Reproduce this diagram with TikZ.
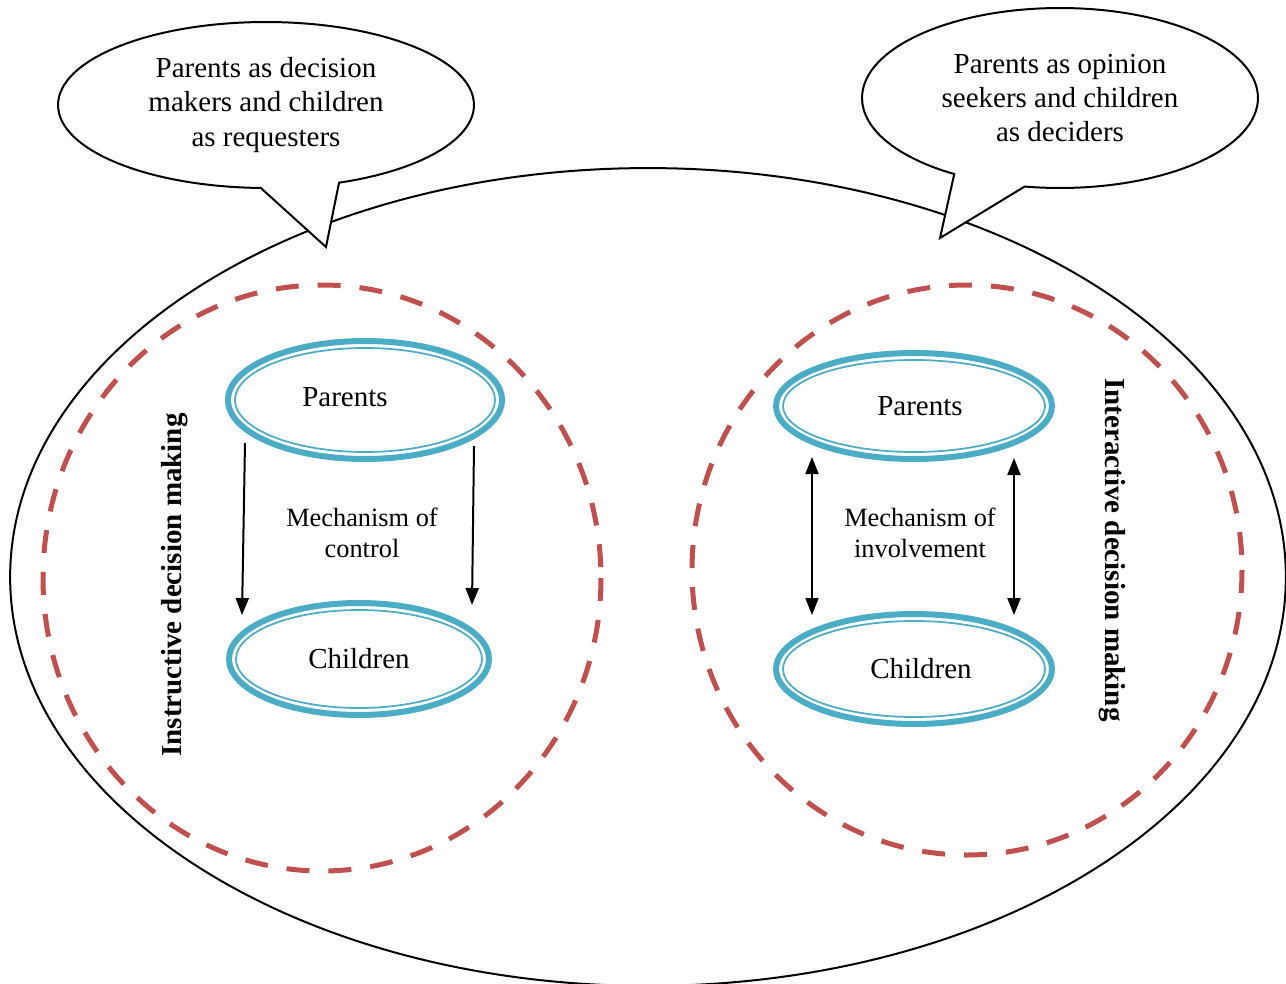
\documentclass[tikz,border=0pt]{standalone}
\usepackage{fontspec}
\setmainfont{Liberation Serif}
\usepackage{tikz}
\usetikzlibrary{calc,shapes,shapes.callouts,arrows.meta,positioning}
\definecolor{famblue}{RGB}{75,172,198}
\definecolor{dashred}{RGB}{192,80,77}
\newcommand{\maintext}{\fontsize{16.5}{19.4}\selectfont}
\newcommand{\smalltext}{\fontsize{15}{17.5}\selectfont}

\tikzset{
  bubble/.style={ellipse callout, draw, fill=white, line width=0.04cm, align=center,
    inner sep=0pt, font=\maintext, callout pointer arc=22},
  zone/.style={draw=dashred, line width=0.1cm, dash pattern=on 0.46cm off 0.38cm},
  member/.style={ellipse, draw=famblue, line width=0.12cm, inner sep=0pt, font=\maintext},
  ring/.style={draw=famblue, line width=0.035cm},
  ctl/.style={line width=0.04cm, -{Triangle[length=0.34cm,width=0.26cm]}},
  inv/.style={line width=0.04cm, {Triangle[length=0.34cm,width=0.26cm]}-{Triangle[length=0.34cm,width=0.26cm]}},
}

\begin{document}
\begin{tikzpicture}[x=0.02cm, y=-0.02cm]
  \useasboundingbox (0,0) rectangle (1286,984);
  \clip (0,0) rectangle (1286,984);

  % outer frame
  \node[ellipse, draw, line width=0.04cm, minimum width=25.52cm, minimum height=16.36cm] (world) at (648,577) {};

  % the two styles
  \draw[zone] (322,578) ellipse (279 and 293);
  \draw[zone] (967,570) ellipse (275 and 285);

  % instructive side
  \node[member, minimum width=5.48cm, minimum height=2.36cm,
        label={[font=\maintext, xshift=-0.4cm, yshift=0.06cm]center:Parents}] (lpar) at (365,400) {};
  \node[member, minimum width=5.2cm, minimum height=2.24cm] (lchi) at (359,659) {Children};
  \draw[ring] (lpar.center) ellipse (130 and 52);
  \draw[ring] (lchi.center) ellipse (123 and 49);
  \draw[ctl] ($(lpar.center)+(-120,43)$) -- ($(lchi.center)+(-117,-44)$);
  \draw[ctl] ($(lpar.center)+(109,46)$) -- ($(lchi.center)+(113,-54)$);
  \node[align=center, font=\smalltext] (lmech) at (362,533) {Mechanism of\\control};
  \node[rotate=90, font=\maintext\bfseries] (linst) at (175,585) {Instructive decision making};

  % interactive side
  \node[member, minimum width=5.52cm, minimum height=2.12cm,
        label={[font=\maintext, xshift=0.12cm]center:Parents}] (rpar) at (914,406) {};
  \node[member, minimum width=5.52cm, minimum height=2.2cm,
        label={[font=\maintext, xshift=0.14cm]center:Children}] (rchi) at (914,669) {};
  \draw[ring] (rpar.center) ellipse (131 and 46);
  \draw[ring] (rchi.center) ellipse (131 and 48);
  \draw[inv] ($(rpar.center)+(-102,51)$) -- ($(rchi.center)+(-102,-54)$);
  \draw[inv] ($(rpar.center)+(100,52)$) -- ($(rchi.center)+(100,-54)$);
  \node[align=center, font=\smalltext] (rmech) at (920,533) {Mechanism of\\involvement};
  \node[rotate=-90, font=\maintext\bfseries] (rinter) at (1112,550) {Interactive decision making};

  % speech bubbles
  \node[bubble, minimum width=8.32cm, minimum height=3.32cm, callout absolute pointer={(326,247)}] (lsay) at (266,105)
    {Parents as decision\\makers and children\\as requesters};
  \node[bubble, minimum width=7.92cm, minimum height=3.6cm, callout absolute pointer={(940,238)}] (rsay) at (1060,98)
    {Parents as opinion\\seekers and children\\as deciders};
\end{tikzpicture}
\end{document}
